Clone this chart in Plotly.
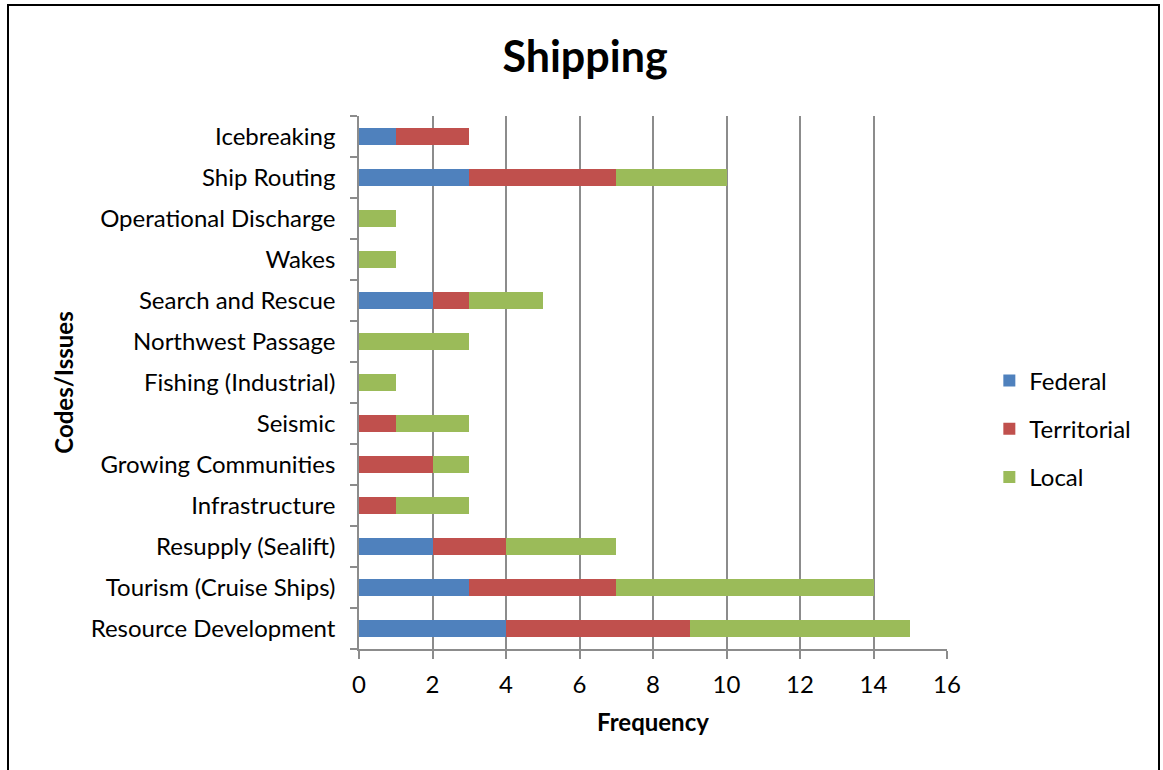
import plotly.graph_objects as go

categories = ["Resource Development", "Tourism (Cruise Ships)", "Resupply (Sealift)",
              "Infrastructure", "Growing Communities", "Seismic", "Fishing (Industrial)",
              "Northwest Passage", "Search and Rescue", "Wakes", "Operational Discharge",
              "Ship Routing", "Icebreaking"]
federal =     [4, 3, 2, 0, 0, 0, 0, 0, 2, 0, 0, 3, 1]
territorial = [5, 4, 2, 1, 2, 1, 0, 0, 1, 0, 0, 4, 2]
local =       [6, 7, 3, 2, 1, 2, 1, 3, 2, 1, 1, 3, 0]
x_ticks = [0, 2, 4, 6, 8, 10, 12, 14, 16]

FONT = "Lato"
series = [("Federal", federal, "#4F81BD"),
          ("Territorial", territorial, "#C0504D"),
          ("Local", local, "#9BBB59")]

fig = go.Figure()
for name, vals, col in series:
    fig.add_trace(go.Bar(y=categories, x=vals, name=name, orientation="h",
                         marker=dict(color=col, line=dict(width=0)),
                         legendgroup=name, width=0.4))

fig.update_layout(
    width=1163, height=770,
    barmode="stack",
    plot_bgcolor="white", paper_bgcolor="white",
    margin=dict(l=359, r=216, t=116, b=121),
    font=dict(family=FONT, size=24, color="black"),
    title=dict(text="<b>Shipping</b>", x=585/1163, xref="container", xanchor="center",
               y=1-57/770, yref="container", yanchor="middle",
               font=dict(size=43, family=FONT)),
    showlegend=True,
    legend=dict(x=1.072, xanchor="left", y=(649-429)/533, yanchor="middle",
                traceorder="grouped", tracegroupgap=14,
                font=dict(size=24), itemwidth=30),
    shapes=[dict(type="rect", xref="paper", yref="paper",
                 x0=-351/588, x1=(1159-359)/588, y0=-1.0, y1=(649-5)/533,
                 line=dict(color="black", width=2), fillcolor="rgba(0,0,0,0)", layer="below")],
)
fig.update_xaxes(range=[0, 16], tickvals=x_ticks, showgrid=True, gridcolor="#8C8C8C",
                 gridwidth=1.5, showline=True, linecolor="#8C8C8C", linewidth=1.5,
                 ticks="outside", ticklen=8, tickcolor="#8C8C8C", tickwidth=1.5,
                 zeroline=False, ticklabelstandoff=5,
                 title=dict(text="<b>Frequency</b>", font=dict(size=24), standoff=18))
fig.update_yaxes(categoryorder="array", categoryarray=categories,
                 showline=True, linecolor="#8C8C8C", linewidth=1.5,
                 ticks="outside", ticklen=7, tickcolor="#8C8C8C", tickwidth=1.5,
                 tickson="boundaries", showgrid=False, ticklabelstandoff=17,
                 title=dict(text="<b>Codes/Issues</b>", font=dict(size=24), standoff=10))

fig.write_html("out.html")
